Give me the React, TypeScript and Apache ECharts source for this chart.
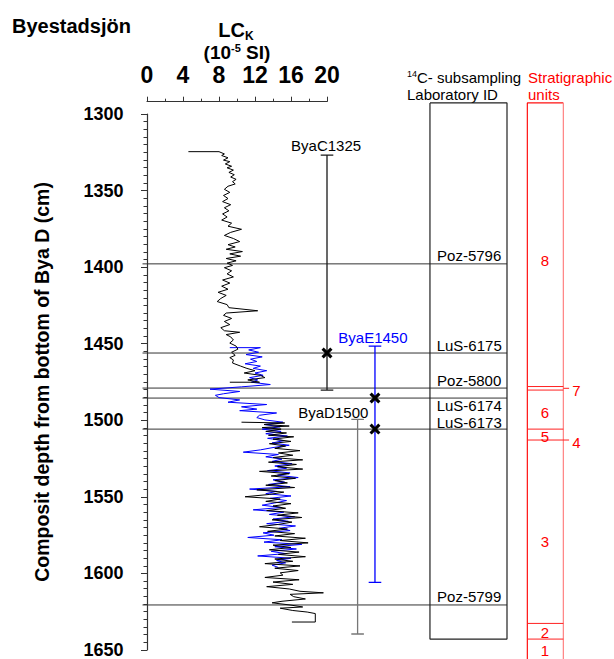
import React, { useEffect, useRef } from "react";
import * as echarts from "echarts";

// ---- Data ----
const blackDepth = [
  1324.5, 1324.5, 1326, 1327, 1328.5, 1330, 1331, 1332.5, 1334, 1335, 1336.5, 1338, 1339.5, 1341, 1342.5, 1344,
  1345.5, 1347, 1349, 1351, 1353, 1355, 1357, 1359, 1361, 1363, 1365, 1367, 1369, 1371, 1373, 1375, 1377, 1379,
  1381, 1383, 1385, 1386.5, 1388, 1389.5, 1391, 1392.5, 1394, 1395.5, 1397, 1398.5, 1400, 1402, 1404, 1406, 1408,
  1410, 1412, 1414, 1416, 1418, 1420, 1422, 1424, 1426, 1428, 1429.5, 1431, 1433, 1435, 1437, 1439, 1441, 1442,
  1443.5, 1445, 1447, 1449, 1451, 1453, 1455, 1457, 1458.5, 1460, 1462, 1464, 1465.5, 1467, 1468.5, 1470, 1471.5,
  1473, 1474.5, 1474.5,
  null,
  1500.5, 1501, 1502, 1503, 1504, 1505, 1506.5, 1507.5, 1509, 1510, 1511.5, 1513, 1514.5, 1516, 1517.5, 1519,
  1520.5, 1522, 1523.5, 1525, 1526.5, 1528, 1529.5, 1531, 1532.5, 1534, 1535.5, 1537, 1538.5, 1540, 1541.5, 1543,
  1544.5, 1546, 1547.5, 1549, 1550.5, 1552, 1553.5, 1555, 1556.5, 1558, 1559.5, 1561, 1562.5, 1564, 1565.5, 1567,
  1568.5, 1570, 1571.5, 1573, 1574.5, 1576, 1577.5, 1579, 1580.5, 1582, 1583.5, 1585, 1586.5, 1588, 1589.5, 1591,
  1592.5, 1594, 1595.5, 1597, 1598.5, 1600, 1601.5, 1603, 1604.5, 1606, 1607.5, 1609, 1610.5, 1611.5, 1612.5, 1614,
  1615.5, 1617, 1618, 1619.5, 1620.7, 1621.5, 1623, 1624, 1625, 1630.5, 1630.5,
];
const blackLC = [
  4.6, 8.0, 8.6, 8.3, 9.0, 8.5, 9.2, 8.7, 9.4, 8.9, 9.6, 9.1, 9.7, 9.3, 9.9, 9.5,
  9.8, 9.0, 8.6, 9.2, 8.5, 9.0, 8.4, 9.3, 8.6, 9.1, 8.4, 8.9, 8.3, 9.4, 9.0, 10.5, 9.3, 8.6,
  9.6, 10.3, 9.0, 9.8, 8.8, 10.6, 9.2, 10.4, 8.8, 9.9, 8.9, 9.5, 8.6, 9.4, 8.9, 9.6, 8.4,
  9.2, 8.3, 9.0, 7.9, 8.8, 8.2, 7.8, 8.9, 9.1, 12.3, 8.8, 8.5, 9.4, 8.6, 9.2, 8.2, 8.6, 10.3,
  8.8, 9.3, 9.6, 9.2, 9.9, 10.1, 9.4, 9.8, 9.2, 9.6, 9.5, 10.4, 11.1, 12.0, 10.8, 12.6, 13.1,
  11.2, 12.5, 9.2,
  null,
  10.5, 15.3, 13.0, 15.8, 12.8, 14.9, 13.2, 15.5, 13.5, 16.3, 14.0, 16.0, 13.6, 15.4, 14.2, 17.0,
  14.6, 16.2, 14.0, 17.3, 13.5, 16.6, 14.5, 17.3, 12.5, 15.8, 13.8, 16.5, 14.2, 15.6, 13.2, 16.4,
  12.2, 15.2, 13.6, 10.9, 14.8, 13.2, 16.0, 14.0, 15.4, 13.3, 16.8, 14.5, 17.2, 13.9, 16.1, 14.6,
  12.5, 15.6, 13.4, 16.4, 14.2, 17.6, 14.8, 17.9, 14.0, 16.0, 13.6, 16.9, 14.6, 17.6, 14.2, 16.2,
  13.1, 17.0, 14.2, 16.8, 14.8, 15.1, 13.1, 16.9, 14.0, 16.2, 13.3, 15.8, 17.0, 19.6, 15.9, 16.3,
  17.6, 15.0, 13.9, 16.0, 17.3, 14.8, 16.2, 17.8, 18.7, 18.7, 16.1,
];
const blueDepth = [
  1452, 1452, 1453.5, 1455, 1456.5, 1458, 1459.5, 1461, 1462.5, 1464, 1465.5, 1467, 1468.5, 1470, 1471.5, 1473,
  1474.5, 1476, 1477.5, 1479, 1480.5, 1482, 1483, 1484.5, 1486, 1487.5, 1489, 1490.5, 1492, 1493, 1494.5, 1496,
  1497.5, 1499, 1500.5, 1502, 1503.5, 1505, 1506.5, 1508, 1509.5, 1511, 1512.5, 1514, 1515.5, 1517, 1518.5, 1520,
  1521.5, 1523, 1524.5, 1526, 1527.5, 1529, 1530.5, 1532, 1533.5, 1535, 1536.5, 1538, 1539.5, 1541, 1542.5, 1544,
  1545.5, 1547, 1548.5, 1550, 1551.5, 1553, 1554.5, 1556, 1557.5, 1559, 1560.5, 1562, 1563.5, 1565, 1566.5, 1568,
  1569.5, 1571, 1572.5, 1574, 1575.5, 1577, 1578.5, 1580, 1581.5, 1583, 1584.5, 1586, 1587.5, 1589, 1590.5, 1592,
  1593.5, 1595,
];
const blueLC = [
  9.2, 12.6, 11.3, 12.4, 11.0, 12.8, 11.5, 12.2, 10.9, 12.6, 11.8, 13.3, 12.0, 12.9, 11.4, 12.3,
  11.6, 13.7, 10.5, 7.0, 10.3, 8.5, 7.6, 8.0, 10.3, 9.0, 13.3, 10.5, 12.2, 10.3, 14.4, 12.5,
  12.2, 13.1, 15.1, 13.0, 14.8, 12.8, 14.9, 13.2, 15.6, 13.4, 15.2, 13.9, 15.8, 14.0, 12.6, 10.7,
  14.6, 13.2, 15.0, 13.9, 16.1, 14.2, 15.5, 13.4, 15.9, 14.5, 16.8, 14.0, 15.3, 13.5, 15.9, 11.4,
  14.4, 13.2, 16.0, 13.7, 15.5, 14.2, 12.8, 14.9, 11.8, 15.2, 13.6, 16.4, 14.0, 15.7, 13.3, 16.5,
  14.7, 15.9, 12.9, 14.1, 11.2, 15.0, 13.0, 17.2, 14.2, 16.6, 13.8, 15.4, 12.3, 16.0, 14.4, 15.4,
  13.9, 14.6,
];

const refDepths = [1397.5, 1455.5, 1478.3, 1484.8, 1505, 1619.4];
const labIds = ["Poz-5796", "LuS-6175", "Poz-5800", "LuS-6174", "LuS-6173", "Poz-5799"];

const errNames = ["ByaC1325", "ByaE1450", "ByaD1500"];
const errLC = [20, 25.33, 23.4];
const errTop = [1326.7, 1451, 1498.6];
const errBottom = [1479.6, 1604.7, 1638.3];
const sampleLC = [20, 25.33, 25.33];
const sampleDepth = [1455.5, 1484.8, 1505];

const unitNames = ["8", "7", "6", "5", "4", "3", "2", "1"];
const unitLabelDepth = [1395, 1480, 1494.3, 1509.5, 1513.4, 1577.8, 1637, 1649];
const unitBounds = [1477.3, 1479.6, 1505, 1512.1, 1631.4, 1641.6];

// ---- Layout (pixels / data-space anchors) ----
const W = 614;
const H = 659;
const PLOT_LEFT = 147;
const PX_PER_UNIT = 9;
const GRID_TOP = 114;
const GRID_H = 538;
const FONT = "'Liberation Sans', Arial, sans-serif";

const REF_X0 = -0.5;
const BOX_X0 = 31.44;
const BOX_X1 = 40;
const BOX_TOP = 1292.8;
const BOX_BOTTOM = 1641.6;
const STRAT_X0 = 42.26;
const STRAT_X1 = 46.26;
const STRAT_BOTTOM = 1660;
const STRAT_TICK_X = 46.9;
const LAB_X = 35.8;
const UNIT_IN_X = 44.2;
const UNIT_OUT_X = 47.7;
const CAP = 0.7;
const errLabelX = [19.9, 25.1, 20.7];
const errLabelDepth = [1320.8, 1445.1, 1494.3];
const errColors = ["#1a1a1a", "#0000ff", "#777"];
const errLabelColors = ["#000", "#0000ff", "#000"];

function seg(data: any[], color: string, width = 1, z = 3) {
  return {
    type: "line",
    xAxisIndex: 1,
    yAxisIndex: 1,
    data,
    symbol: "none",
    clip: false,
    silent: true,
    z,
    lineStyle: { color, width },
  };
}

function splitSegments(depths: (number | null)[], vals: (number | null)[]) {
  const out: number[][][] = [];
  let cur: number[][] = [];
  depths.forEach((d, i) => {
    const v = vals[i];
    if (d == null || v == null) {
      if (cur.length) out.push(cur);
      cur = [];
    } else cur.push([v, d]);
  });
  if (cur.length) out.push(cur);
  return out;
}

export default function App() {
  const ref = useRef<HTMLDivElement>(null);
  useEffect(() => {
    if (!ref.current) return;
    const chart = echarts.init(ref.current, undefined, { renderer: "svg" });
    const series: any[] = [];

    // reference lines
    refDepths.forEach((d) => series.push(seg([[REF_X0, d], [BOX_X1, d]], "#333", 1, 2)));
    // lab id box
    series.push(
      seg(
        [
          [BOX_X0, BOX_TOP],
          [BOX_X1, BOX_TOP],
          [BOX_X1, BOX_BOTTOM],
          [BOX_X0, BOX_BOTTOM],
          [BOX_X0, BOX_TOP],
        ],
        "#222",
        1.2
      )
    );
    // stratigraphic column
    series.push(seg([[STRAT_X0, STRAT_BOTTOM], [STRAT_X0, BOX_TOP], [STRAT_X1, BOX_TOP]], "#ff1010", 1.2));
    series.push(seg([[STRAT_X1, BOX_TOP], [STRAT_X1, STRAT_BOTTOM]], "#ff8080", 1.2));
    unitBounds.forEach((d, i) => {
      const x1 = i === 3 ? STRAT_TICK_X : STRAT_X1;
      series.push(seg([[STRAT_X0, d], [x1, d]], "#ff2020", 1));
    });
    const mid7 = (unitBounds[0] + unitBounds[1]) / 2;
    series.push(seg([[STRAT_X1, mid7], [STRAT_TICK_X, mid7]], "#ff2020", 1));

    // curves
    splitSegments(blackDepth, blackLC).forEach((s) => series.push(seg(s, "#000", 1, 5)));
    splitSegments(blueDepth, blueLC).forEach((s) => series.push(seg(s, "#0000ff", 1, 4)));

    // error bars
    errNames.forEach((n, i) => {
      const x = errLC[i];
      series.push(
        seg(
          [
            [x - CAP, errTop[i]],
            [x + CAP, errTop[i]],
            [x, errTop[i]],
            [x, errBottom[i]],
            [x - CAP, errBottom[i]],
            [x + CAP, errBottom[i]],
          ],
          errColors[i],
          1.3,
          6
        )
      );
    });

    // sample markers
    series.push({
      type: "scatter",
      xAxisIndex: 1,
      yAxisIndex: 1,
      silent: true,
      z: 8,
      symbol: "path://M0,2 L2,0 L5,3 L8,0 L10,2 L7,5 L10,8 L8,10 L5,7 L2,10 L0,8 L3,5 Z",
      symbolSize: 11,
      itemStyle: { color: "#000", opacity: 1 },
      data: sampleLC.map((v, i) => [v, sampleDepth[i]]),
    });

    // text labels (lab ids, error bar names, units)
    const textSeries = (data: any[], color: string, lineHeight: number) => ({
      type: "scatter",
      xAxisIndex: 1,
      yAxisIndex: 1,
      silent: true,
      clip: false,
      z: 9,
      symbolSize: 0,
      itemStyle: { color: "#fff", opacity: 1 },
      label: {
        show: true,
        position: "inside",
        formatter: "{b}",
        color,
        opacity: 1,
        textBorderWidth: 0,
        fontSize: 15,
        lineHeight,
        fontFamily: FONT,
      },
      labelLayout: { hideOverlap: false },
      data,
    });

    series.push(
      textSeries(
        labIds.map((n, i) => ({
          name: n,
          value: [LAB_X, refDepths[i]],
          label: { position: i === 3 ? "bottom" : "top", distance: i === 3 || i === 4 ? 0 : 1 },
        })),
        "#000",
        14
      )
    );
    series.push(
      textSeries(
        errNames.map((n, i) => ({
          name: n,
          value: [errLabelX[i], errLabelDepth[i]],
          label: { color: errLabelColors[i] },
        })),
        "#000",
        15
      )
    );
    series.push(
      textSeries(
        unitNames.map((n, i) => ({
          name: n,
          value: [n === "7" || n === "4" ? UNIT_OUT_X : UNIT_IN_X, unitLabelDepth[i]],
        })),
        "#ff0000",
        14
      )
    );

    const yMin = 1300;
    const yMax = 1650;
    const xMin1 = -PLOT_LEFT / PX_PER_UNIT;
    const xMax1 = (W - PLOT_LEFT) / PX_PER_UNIT;

    chart.setOption({
      animation: false,
      backgroundColor: "#fff",
      grid: [
        { left: PLOT_LEFT, top: GRID_TOP, width: 20 * PX_PER_UNIT, height: GRID_H },
        { left: 0, top: GRID_TOP, width: W, height: GRID_H },
      ],
      xAxis: [
        {
          gridIndex: 0,
          type: "value",
          position: "top",
          min: 0,
          max: 20,
          interval: 4,
          offset: 12.3,
          axisLine: { show: true, lineStyle: { color: "#333", width: 1.2 } },
          axisTick: { show: true, inside: false, length: 5, lineStyle: { color: "#333" } },
          minorTick: { show: true, splitNumber: 2, length: 3, lineStyle: { color: "#333" } },
          splitLine: { show: false },
          axisLabel: {
            show: true,
            margin: 15,
            color: "#000",
            fontSize: 23,
            fontWeight: "bold",
            fontFamily: FONT,
          },
        },
        {
          gridIndex: 1,
          type: "value",
          min: xMin1,
          max: xMax1,
          show: false,
        },
      ],
      yAxis: [
        {
          gridIndex: 0,
          type: "value",
          inverse: true,
          min: yMin,
          max: yMax,
          interval: 50,
          offset: 4.5,
          position: "left",
          axisLine: { show: true, lineStyle: { color: "#333", width: 1.2 } },
          axisTick: { show: true, inside: false, length: 6, lineStyle: { color: "#333" } },
          minorTick: { show: true, splitNumber: 10, length: 3.5, lineStyle: { color: "#333" } },
          splitLine: { show: false },
          axisLabel: {
            margin: 19,
            color: "#000",
            fontSize: 18,
            fontWeight: "bold",
            fontFamily: FONT,
            formatter: (v: number) => String(v),
          },
          name: "Composit depth from bottom of Bya D (cm)",
          nameLocation: "middle",
          nameRotate: 90,
          nameGap: 91,
          nameTextStyle: { fontSize: 19.5, fontWeight: "bold", color: "#000", fontFamily: FONT },
        },
        {
          gridIndex: 1,
          type: "value",
          inverse: true,
          min: yMin,
          max: yMax,
          show: false,
        },
      ],
      graphic: [
        {
          type: "text",
          x: 12,
          y: 26,
          style: {
            text: "Byestadsjön",
            fontSize: 20,
            fontWeight: "bold",
            fontFamily: FONT,
            fill: "#000",
            align: "left",
            textAlign: "left",
            verticalAlign: "middle",
            textVerticalAlign: "middle",
          },
        },
        {
          type: "text",
          x: 236,
          y: 31,
          style: {
            text: "{a|LC}{s|K}",
            fill: "#000",
            align: "center",
            textAlign: "center",
            verticalAlign: "middle",
            textVerticalAlign: "middle",
            rich: {
              a: { fontSize: 20, fontWeight: "bold", fontFamily: FONT, lineHeight: 22, verticalAlign: "top" },
              s: { fontSize: 12, fontWeight: "bold", fontFamily: FONT, lineHeight: 12, verticalAlign: "bottom" },
            },
          },
        },
        {
          type: "text",
          x: 237,
          y: 52,
          style: {
            text: "{a|(10}{s|-5}{a| SI)}",
            fill: "#000",
            align: "center",
            textAlign: "center",
            verticalAlign: "middle",
            textVerticalAlign: "middle",
            rich: {
              a: { fontSize: 19, fontWeight: "bold", fontFamily: FONT, lineHeight: 19, verticalAlign: "bottom" },
              s: { fontSize: 11, fontWeight: "bold", fontFamily: FONT, lineHeight: 11, verticalAlign: "top" },
            },
          },
        },
        {
          type: "text",
          x: 407,
          y: 77,
          style: {
            text: "{s|14}{a|C- subsampling}",
            fill: "#000",
            align: "left",
            textAlign: "left",
            verticalAlign: "middle",
            textVerticalAlign: "middle",
            rich: {
              a: { fontSize: 15, fontFamily: FONT, lineHeight: 16, verticalAlign: "bottom" },
              s: { fontSize: 9, fontFamily: FONT, lineHeight: 10, verticalAlign: "top" },
            },
          },
        },
        {
          type: "text",
          x: 407,
          y: 94,
          style: {
            text: "Laboratory ID",
            fontSize: 15,
            lineHeight: 16,
            fontFamily: FONT,
            fill: "#000",
            align: "left",
            textAlign: "left",
            verticalAlign: "middle",
            textVerticalAlign: "middle",
          },
        },
        {
          type: "text",
          x: 528,
          y: 77,
          style: {
            text: "Stratigraphic",
            fontSize: 15,
            lineHeight: 16,
            fontFamily: FONT,
            fill: "#ff0000",
            align: "left",
            textAlign: "left",
            verticalAlign: "middle",
            textVerticalAlign: "middle",
          },
        },
        {
          type: "text",
          x: 528,
          y: 94,
          style: {
            text: "units",
            fontSize: 15,
            lineHeight: 16,
            fontFamily: FONT,
            fill: "#ff0000",
            align: "left",
            textAlign: "left",
            verticalAlign: "middle",
            textVerticalAlign: "middle",
          },
        },
      ],
      series,
    });
    return () => chart.dispose();
  }, []);
  return (
    <div
      ref={ref}
      style={{ position: "fixed", left: 0, top: 0, width: W, height: H, background: "#fff" }}
    />
  );
}
